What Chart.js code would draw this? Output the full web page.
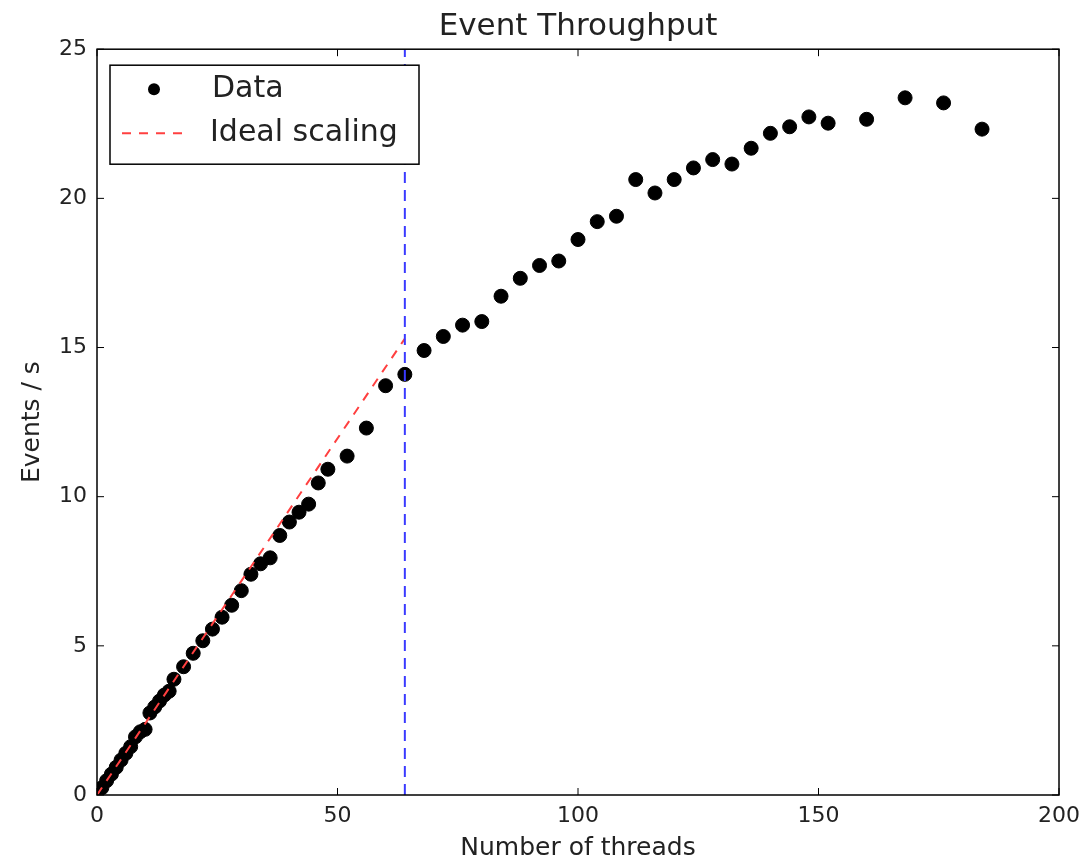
<!DOCTYPE html>
<html>
<head>
<meta charset="utf-8">
<script src="https://cdn.jsdelivr.net/npm/chart.js@4.4.0/dist/chart.umd.min.js"></script>
<style>
  html, body { margin: 0; padding: 0; background: #fff; }
  #chart { display: block; }
</style>
</head>
<body>
<canvas id="chart" width="1088" height="863"></canvas>
<script>
const threads = [1, 2, 3, 4, 5, 6, 7, 8, 9, 10, 11, 12, 13, 14, 15, 16,
  18, 20, 22, 24, 26, 28, 30, 32, 34, 36, 38, 40, 42, 44, 46, 48,
  52, 56, 60, 64, 68, 72, 76, 80, 84, 88, 92, 96, 100, 104, 108,
  112, 116, 120, 124, 128, 132, 136, 140, 144, 148, 152, 160, 168, 176, 184];
const eventsPerSec = [0.24, 0.48, 0.70, 0.93, 1.17, 1.40, 1.62, 1.95, 2.12, 2.2, 2.75, 2.95, 3.15, 3.35, 3.48, 3.88,
  4.3, 4.75, 5.17, 5.56, 5.96, 6.36, 6.85, 7.4, 7.75, 7.95, 8.7, 9.15, 9.48, 9.75, 10.46, 10.92,
  11.36, 12.3, 13.72, 14.1, 14.9, 15.37, 15.75, 15.87, 16.72, 17.32, 17.75, 17.9, 18.62, 19.22, 19.4,
  20.63, 20.18, 20.63, 21.02, 21.3, 21.15, 21.68, 22.18, 22.4, 22.73, 22.52, 22.65, 23.37, 23.2, 22.32];

// ideal scaling line
const idealThreads = [0, 64];
const idealRate = [0, 15.3];

// vertical marker at 64 threads
const markerThreads = [64, 64];
const markerRange = [0, 25];

const xMin = 0, xMax = 200, xStep = 50;
const yMin = 0, yMax = 25, yStep = 5;

const font = 'DejaVu Sans';
const canvas = document.querySelector('#chart');

function toPoints(xs, ys) {
  return xs.map((v, i) => ({ x: v, y: ys[i] }));
}

// box round the plot with inward ticks, like matplotlib classic
const framePlugin = {
  id: 'frame',
  afterDatasetsDraw(chart) {
    const { ctx, chartArea: a, scales: { x, y } } = chart;
    ctx.save();
    ctx.strokeStyle = '#000';
    ctx.lineWidth = 1.5;
    ctx.strokeRect(a.left, a.top, a.right - a.left, a.bottom - a.top);
    ctx.lineWidth = 1;
    ctx.beginPath();
    x.ticks.forEach(t => {
      const px = x.getPixelForValue(t.value);
      ctx.moveTo(px, a.bottom); ctx.lineTo(px, a.bottom - 7);
      ctx.moveTo(px, a.top); ctx.lineTo(px, a.top + 7);
    });
    y.ticks.forEach(t => {
      const py = y.getPixelForValue(t.value);
      ctx.moveTo(a.left, py); ctx.lineTo(a.left + 7, py);
      ctx.moveTo(a.right, py); ctx.lineTo(a.right - 7, py);
    });
    ctx.stroke();
    ctx.restore();
  }
};

// legend box inside the top left corner
const legendPlugin = {
  id: 'boxLegend',
  afterDraw(chart) {
    const { ctx, chartArea: a } = chart;
    const ds = chart.data.datasets;
    const left = a.left + 13, top = a.top + 16, w = 309, h = 99;
    ctx.save();
    ctx.fillStyle = '#fff';
    ctx.fillRect(left, top, w, h);
    ctx.strokeStyle = '#000';
    ctx.lineWidth = 1.5;
    ctx.strokeRect(left, top, w, h);

    ctx.font = '30px "' + font + '"';
    ctx.fillStyle = '#222';
    ctx.textBaseline = 'middle';

    // Data entry
    const y1 = top + 24;
    ctx.beginPath();
    ctx.arc(left + 44, y1, 6, 0, Math.PI * 2);
    ctx.fillStyle = '#000';
    ctx.fill();
    ctx.fillStyle = '#222';
    ctx.fillText(ds[0].label, left + 102, y1);

    // Ideal scaling entry
    const y2 = top + 68;
    ctx.strokeStyle = ds[1].borderColor;
    ctx.lineWidth = 2;
    ctx.setLineDash([9, 8]);
    ctx.beginPath();
    ctx.moveTo(left + 12, y2);
    ctx.lineTo(left + 78, y2);
    ctx.stroke();
    ctx.setLineDash([]);
    ctx.fillText(ds[1].label, left + 100, y2);
    ctx.restore();
  }
};

new Chart(canvas, {
  type: 'scatter',
  data: {
    datasets: [
      {
        label: 'Data',
        data: toPoints(threads, eventsPerSec),
        backgroundColor: '#000',
        borderColor: '#000',
        pointRadius: 7,
        pointHoverRadius: 7,
        showLine: false,
        order: 3
      },
      {
        label: 'Ideal scaling',
        data: toPoints(idealThreads, idealRate),
        borderColor: '#ff4040',
        borderWidth: 2,
        borderDash: [9, 8],
        pointRadius: 0,
        showLine: true,
        order: 2
      },
      {
        label: 'marker',
        data: toPoints(markerThreads, markerRange),
        borderColor: '#3a3aff',
        borderWidth: 2,
        borderDash: [11, 7],
        pointRadius: 0,
        showLine: true,
        order: 1
      }
    ]
  },
  options: {
    responsive: false,
    animation: false,
    layout: { padding: { left: 0, right: 24, top: 0, bottom: 0 } },
    plugins: {
      legend: { display: false },
      tooltip: { enabled: false },
      title: {
        display: true,
        fullSize: false,
        text: 'Event Throughput',
        color: '#222',
        font: { family: font, size: 31, weight: 'normal' },
        padding: { top: 8, bottom: 4 }
      }
    },
    scales: {
      x: {
        type: 'linear',
        min: xMin,
        max: xMax,
        ticks: { stepSize: xStep, color: '#222', padding: 8, font: { family: font, size: 22 } },
        grid: { display: false, drawTicks: false },
        border: { display: false },
        title: {
          display: true,
          text: 'Number of threads',
          color: '#222',
          font: { family: font, size: 25 },
          padding: { top: 12, bottom: 0 }
        },
        afterFit(scale) { scale.height = 68; }
      },
      y: {
        type: 'linear',
        min: yMin,
        max: yMax,
        ticks: { stepSize: yStep, color: '#222', padding: 10, font: { family: font, size: 22 } },
        grid: { display: false, drawTicks: false },
        border: { display: false },
        title: {
          display: true,
          text: 'Events / s',
          color: '#222',
          font: { family: font, size: 25 },
          padding: { top: 17, bottom: 0 }
        },
        afterFit(scale) { scale.width = 97; }
      }
    }
  },
  plugins: [framePlugin, legendPlugin]
});
</script>
</body>
</html>
